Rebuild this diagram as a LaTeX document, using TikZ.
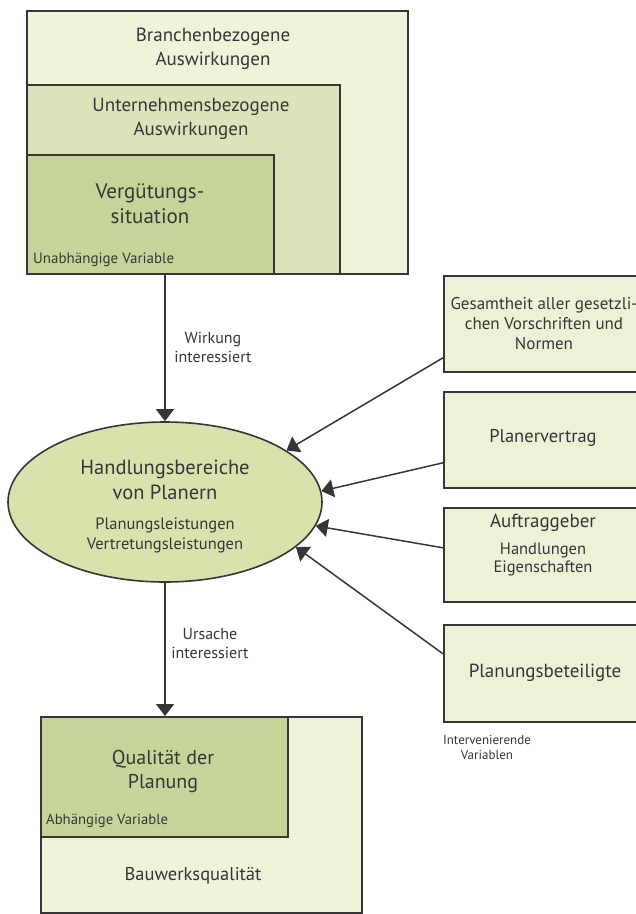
\documentclass[tikz,border=0pt]{standalone}
\usepackage{fontspec}
\setmainfont{PT Sans}
\usetikzlibrary{arrows.meta,shapes.geometric}
\definecolor{ink}{HTML}{363636}
\definecolor{paleG}{HTML}{F0F2DA}
\definecolor{midG}{HTML}{DCE3BA}
\definecolor{deepG}{HTML}{C6D49A}
\definecolor{ellG}{HTML}{D8E2AD}
\definecolor{sideG}{HTML}{EFF1D7}
\tikzset{
  frame/.style={draw=ink, line width=1.6pt, anchor=north west, inner sep=0pt},
  lbl/.style={text=ink, align=center, inner sep=0pt},
  link/.style={draw=ink, line width=1.5pt, -{Triangle[length=12pt,width=18pt]}},
}
\newcommand{\fsz}[2]{\fontsize{#1}{#2}\selectfont}
\begin{document}
\begin{tikzpicture}[x=1pt,y=-1pt]
\useasboundingbox (0,0) rectangle (636,914);

% nested boxes at the top
\node[frame, fill=paleG, minimum width=381pt, minimum height=263pt] (branch) at (26,10) {};
\node[frame, fill=midG, minimum width=313pt, minimum height=189pt] (firm) at (26,84) {};
\node[frame, fill=deepG, minimum width=247pt, minimum height=119pt] (pay) at (26,154) {};
\node[lbl, font=\fsz{19}{24}] (tBranch) at (213,49) {Branchenbezogene\\Auswirkungen};
\node[lbl, font=\fsz{19}{24}] (tFirm) at (191,119) {Unternehmensbezogene\\Auswirkungen};
\node[lbl, font=\fsz{21}{25}] (tPay) at (150,204) {Vergütungs-\\situation};
\node[lbl, font=\fsz{15}{18}, anchor=west] (tIndep) at (33,260) {Unabhängige Variable};

% central ellipse
\node[ellipse, draw=ink, line width=1.6pt, fill=ellG, minimum width=314pt, minimum height=160pt, inner sep=0pt] (act) at (165,502) {};
\node[lbl, font=\fsz{20.5}{25}] (tAct) at (165,480) {Handlungsbereiche\\von Planern};
\node[lbl, font=\fsz{16.5}{20}] (tActSub) at (165,535) {Planungsleistungen\\Vertretungsleistungen};

% nested boxes at the bottom
\node[frame, fill=paleG, minimum width=321pt, minimum height=196pt] (build) at (40,716) {};
\node[frame, fill=deepG, minimum width=247pt, minimum height=120pt] (plan) at (40,716) {};
\node[lbl, font=\fsz{20}{24}] (tPlan) at (163,771) {Qualität der\\Planung};
\node[lbl, font=\fsz{14.7}{18}, anchor=west] (tDep) at (46,821) {Abhängige Variable};
\node[lbl, font=\fsz{18.5}{22}] (tBuild) at (193,876) {Bauwerksqualität};

% intervening boxes on the right
\node[frame, fill=sideG, minimum width=193pt, minimum height=96pt] (law) at (443,275) {};
\node[frame, fill=sideG, minimum width=193pt, minimum height=96pt] (contract) at (443,391) {};
\node[frame, fill=sideG, minimum width=193pt, minimum height=94pt] (client) at (443,507) {};
\node[frame, fill=sideG, minimum width=193pt, minimum height=97pt] (parties) at (443,624) {};
\node[lbl, font=\fsz{17}{20}] (tLaw) at (544,324) {Gesamtheit aller gesetzli-\\chen Vorschriften und\\Normen};
\node[lbl, font=\fsz{18.5}{22}] (tContract) at (543,438) {Planervertrag};
\node[lbl, font=\fsz{19}{22}] (tClient) at (543,523) {Auftraggeber};
\node[lbl, font=\fsz{16.5}{18}] (tClientSub) at (543,559) {Handlungen\\Eigenschaften};
\node[lbl, font=\fsz{19}{22}] (tParties) at (545,673) {Planungsbeteiligte};
\node[lbl, font=\fsz{13}{15}] (tInter) at (487,747) {Intervenierende\\Variablen};

% connectors
\draw[link] (act.north |- pay.south) -- (act.north);
\node[lbl, font=\fsz{16}{19}] (tEffect) at (213,347) {Wirkung\\interessiert};
\draw[link] (act.south) -- (act.south |- plan.north);
\node[lbl, font=\fsz{16}{19}] (tCause) at (210,643) {Ursache\\interessiert};

\draw[link] ([yshift=-34pt]law.west) -- (act.23);
\draw[link] ([yshift=-23pt]contract.west) -- (act.4);
\draw[link] ([yshift=7pt]client.west) -- (act.-9.5);
\draw[link] ([yshift=19.5pt]parties.west) -- (act.-19.4);
\end{tikzpicture}
\end{document}
